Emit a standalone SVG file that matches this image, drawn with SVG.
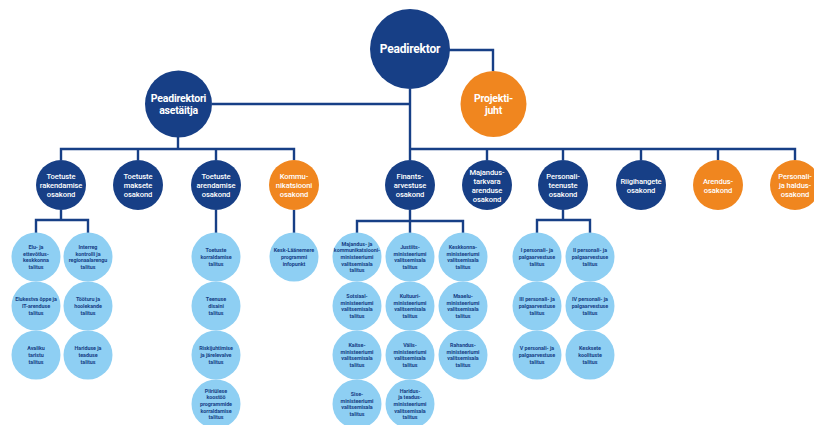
<svg xmlns="http://www.w3.org/2000/svg" width="814" height="425" viewBox="0 0 814 425">
<style>
.bg{fill:#ffffff}
.dk{fill:#173f86}
.or{fill:#f0861f}
.lt{fill:#8ecff3}
.conn path{fill:none;stroke:#173f86;stroke-width:2.4}
text{font-family:Roboto,"Liberation Sans",sans-serif;text-anchor:middle}
.t0{fill:#fff;font-size:12px;font-weight:700;letter-spacing:-0.2px}
.t1{fill:#fff;font-size:10.5px;font-weight:700;letter-spacing:-0.2px}
.t2{fill:#fff;font-size:7.6px;font-weight:500;letter-spacing:-0.1px}
.t3{fill:#173f86;font-size:5.4px;font-weight:700;letter-spacing:-0.05px}
</style>
<rect class="bg" x="0" y="0" width="814" height="425"/>
<g id="connectors" class="conn">
<path d="M410 89 V149"/>
<path d="M449 50 H493 V71"/>
<path d="M212 104 H410"/>
<path d="M178 137 V149"/>
<path d="M61 160 V149 H294 V160 M138 149 V160 M216 149 V160"/>
<path d="M410 149 H795 V160 M410 149 V160 M487 149 V160 M563 149 V160 M641 149 V160 M718 149 V160"/>
<path d="M61 210 V220 M36 233 V220 H88 V233"/>
<path d="M216 210 V233"/>
<path d="M294 210 V233"/>
<path d="M410 210 V233 M357 233 V221 H463 V233"/>
<path d="M563 210 V220 M537 233 V220 H590 V233"/>
</g>

<g id="peadirektor"><circle class="dk" cx="410" cy="49" r="40"/><text class="t0" x="410" y="53">Peadirektor</text></g>
<g id="asetaitja"><circle class="dk" cx="178.5" cy="104" r="33.5"/><text class="t1"><tspan x="178.5" y="101.5">Peadirektori</tspan><tspan x="178.5" y="114">asetäitja</tspan></text></g>
<g id="projektijuht"><circle class="or" cx="493.5" cy="104" r="33"/><text class="t1"><tspan x="493.5" y="101.5">Projekti-</tspan><tspan x="493.5" y="114">juht</tspan></text></g>

<g id="rakendamise"><circle class="dk" cx="61" cy="185" r="25"/><text class="t2"><tspan x="61" y="179">Toetuste</tspan><tspan x="61" y="188">rakendamise</tspan><tspan x="61" y="197">osakond</tspan></text></g>
<g id="maksete"><circle class="dk" cx="138" cy="185" r="25"/><text class="t2"><tspan x="138" y="179">Toetuste</tspan><tspan x="138" y="188">maksete</tspan><tspan x="138" y="197">osakond</tspan></text></g>
<g id="arendamise"><circle class="dk" cx="216" cy="185" r="25"/><text class="t2"><tspan x="216" y="179">Toetuste</tspan><tspan x="216" y="188">arendamise</tspan><tspan x="216" y="197">osakond</tspan></text></g>
<g id="kommunikatsiooni"><circle class="or" cx="294" cy="185" r="25"/><text class="t2"><tspan x="294" y="179">Kommu-</tspan><tspan x="294" y="188">nikatsiooni</tspan><tspan x="294" y="197">osakond</tspan></text></g>
<g id="finants"><circle class="dk" cx="410" cy="185" r="25"/><text class="t2"><tspan x="410" y="179">Finants-</tspan><tspan x="410" y="188">arvestuse</tspan><tspan x="410" y="197">osakond</tspan></text></g>
<g id="majandustarkvara"><circle class="dk" cx="487" cy="185" r="25"/><text class="t2"><tspan x="487" y="174.5">Majandus-</tspan><tspan x="487" y="183.5">tarkvara</tspan><tspan x="487" y="192.5">arenduse</tspan><tspan x="487" y="201.5">osakond</tspan></text></g>
<g id="personaliteenuste"><circle class="dk" cx="563" cy="185" r="25"/><text class="t2"><tspan x="563" y="179">Personali-</tspan><tspan x="563" y="188">teenuste</tspan><tspan x="563" y="197">osakond</tspan></text></g>
<g id="riigihangete"><circle class="dk" cx="641" cy="185" r="25"/><text class="t2"><tspan x="641" y="183.5">Riigihangete</tspan><tspan x="641" y="192.5">osakond</tspan></text></g>
<g id="arendus"><circle class="or" cx="718" cy="185" r="25"/><text class="t2"><tspan x="718" y="183.5">Arendus-</tspan><tspan x="718" y="192.5">osakond</tspan></text></g>
<g id="personalihaldus"><circle class="or" cx="795" cy="185" r="25"/><text class="t2"><tspan x="795" y="179">Personali-</tspan><tspan x="795" y="188">ja haldus-</tspan><tspan x="795" y="197">osakond</tspan></text></g>

<g id="elu"><circle class="lt" cx="36" cy="257" r="24.5"/><text class="t3"><tspan x="36" y="249">Elu- ja</tspan><tspan x="36" y="255.7">ettevõtlus-</tspan><tspan x="36" y="262.4">keskkonna</tspan><tspan x="36" y="269.1">talitus</tspan></text></g>
<g id="interreg"><circle class="lt" cx="88" cy="257" r="24.5"/><text class="t3"><tspan x="88" y="249">Interreg</tspan><tspan x="88" y="255.7">kontrolli ja</tspan><tspan x="88" y="262.4">regionaalarengu</tspan><tspan x="88" y="269.1">talitus</tspan></text></g>
<g id="elukestva"><circle class="lt" cx="36" cy="306" r="24.5"/><text class="t3"><tspan x="36" y="301.3">Elukestva õppe ja</tspan><tspan x="36" y="308">IT-arenduse</tspan><tspan x="36" y="314.7">talitus</tspan></text></g>
<g id="tooturu"><circle class="lt" cx="88" cy="306" r="24.5"/><text class="t3"><tspan x="88" y="301.3">Tööturu ja</tspan><tspan x="88" y="308">hoolekande</tspan><tspan x="88" y="314.7">talitus</tspan></text></g>
<g id="avaliku"><circle class="lt" cx="36" cy="355" r="24.5"/><text class="t3"><tspan x="36" y="350.3">Avaliku</tspan><tspan x="36" y="357">taristu</tspan><tspan x="36" y="363.7">talitus</tspan></text></g>
<g id="hariduse"><circle class="lt" cx="88" cy="355" r="24.5"/><text class="t3"><tspan x="88" y="350.3">Hariduse ja</tspan><tspan x="88" y="357">teaduse</tspan><tspan x="88" y="363.7">talitus</tspan></text></g>

<g id="korraldamise"><circle class="lt" cx="216" cy="257" r="24.5"/><text class="t3"><tspan x="216" y="252.3">Toetuste</tspan><tspan x="216" y="259">korraldamise</tspan><tspan x="216" y="265.7">talitus</tspan></text></g>
<g id="disaini"><circle class="lt" cx="216" cy="306" r="24.5"/><text class="t3"><tspan x="216" y="301.3">Teenuse</tspan><tspan x="216" y="308">disaini</tspan><tspan x="216" y="314.7">talitus</tspan></text></g>
<g id="riskijuhtimise"><circle class="lt" cx="216" cy="355" r="24.5"/><text class="t3"><tspan x="216" y="350.3">Riskijuhtimise</tspan><tspan x="216" y="357">ja järelevalve</tspan><tspan x="216" y="363.7">talitus</tspan></text></g>
<g id="piiriulese"><circle class="lt" cx="216" cy="404" r="24.5"/><text class="t3"><tspan x="216" y="392.6">Piiriülese</tspan><tspan x="216" y="399.3">koostöö</tspan><tspan x="216" y="406">programmide</tspan><tspan x="216" y="412.7">korraldamise</tspan><tspan x="216" y="419.4">talitus</tspan></text></g>

<g id="infopunkt"><circle class="lt" cx="294" cy="257" r="24.5"/><text class="t3"><tspan x="294" y="252.3">Kesk-Läänemere</tspan><tspan x="294" y="259">programmi</tspan><tspan x="294" y="265.7">infopunkt</tspan></text></g>

<g id="mkm"><circle class="lt" cx="357" cy="257" r="24.5"/><text class="t3"><tspan x="357" y="245.6">Majandus- ja</tspan><tspan x="357" y="252.3">kommunikatsiooni-</tspan><tspan x="357" y="259">ministeeriumi</tspan><tspan x="357" y="265.7">valitsemisala</tspan><tspan x="357" y="272.4">talitus</tspan></text></g>
<g id="justiits"><circle class="lt" cx="410" cy="257" r="24.5"/><text class="t3"><tspan x="410" y="249">Justiits-</tspan><tspan x="410" y="255.7">ministeeriumi</tspan><tspan x="410" y="262.4">valitsemisala</tspan><tspan x="410" y="269.1">talitus</tspan></text></g>
<g id="keskkonna"><circle class="lt" cx="463" cy="257" r="24.5"/><text class="t3"><tspan x="463" y="249">Keskkonna-</tspan><tspan x="463" y="255.7">ministeeriumi</tspan><tspan x="463" y="262.4">valitsemisala</tspan><tspan x="463" y="269.1">talitus</tspan></text></g>
<g id="sotsiaal"><circle class="lt" cx="357" cy="306" r="24.5"/><text class="t3"><tspan x="357" y="298">Sotsiaal-</tspan><tspan x="357" y="304.7">ministeeriumi</tspan><tspan x="357" y="311.4">valitsemisala</tspan><tspan x="357" y="318.1">talitus</tspan></text></g>
<g id="kultuuri"><circle class="lt" cx="410" cy="306" r="24.5"/><text class="t3"><tspan x="410" y="298">Kultuuri-</tspan><tspan x="410" y="304.7">ministeeriumi</tspan><tspan x="410" y="311.4">valitsemisala</tspan><tspan x="410" y="318.1">talitus</tspan></text></g>
<g id="maaelu"><circle class="lt" cx="463" cy="306" r="24.5"/><text class="t3"><tspan x="463" y="298">Maaelu-</tspan><tspan x="463" y="304.7">ministeeriumi</tspan><tspan x="463" y="311.4">valitsemisala</tspan><tspan x="463" y="318.1">talitus</tspan></text></g>
<g id="kaitse"><circle class="lt" cx="357" cy="355" r="24.5"/><text class="t3"><tspan x="357" y="347">Kaitse-</tspan><tspan x="357" y="353.7">ministeeriumi</tspan><tspan x="357" y="360.4">valitsemisala</tspan><tspan x="357" y="367.1">talitus</tspan></text></g>
<g id="valis"><circle class="lt" cx="410" cy="355" r="24.5"/><text class="t3"><tspan x="410" y="347">Välis-</tspan><tspan x="410" y="353.7">ministeeriumi</tspan><tspan x="410" y="360.4">valitsemisala</tspan><tspan x="410" y="367.1">talitus</tspan></text></g>
<g id="rahandus"><circle class="lt" cx="463" cy="355" r="24.5"/><text class="t3"><tspan x="463" y="347">Rahandus-</tspan><tspan x="463" y="353.7">ministeeriumi</tspan><tspan x="463" y="360.4">valitsemisala</tspan><tspan x="463" y="367.1">talitus</tspan></text></g>
<g id="sise"><circle class="lt" cx="357" cy="404" r="24.5"/><text class="t3"><tspan x="357" y="396">Sise-</tspan><tspan x="357" y="402.7">ministeeriumi</tspan><tspan x="357" y="409.4">valitsemisala</tspan><tspan x="357" y="416.1">talitus</tspan></text></g>
<g id="haridus"><circle class="lt" cx="410" cy="404" r="24.5"/><text class="t3"><tspan x="410" y="392.6">Haridus-</tspan><tspan x="410" y="399.3">ja teadus-</tspan><tspan x="410" y="406">ministeeriumi</tspan><tspan x="410" y="412.7">valitsemisala</tspan><tspan x="410" y="419.4">talitus</tspan></text></g>

<g id="p1"><circle class="lt" cx="537" cy="257" r="24.5"/><text class="t3"><tspan x="537" y="252.3">I personali- ja</tspan><tspan x="537" y="259">palgaarvestuse</tspan><tspan x="537" y="265.7">talitus</tspan></text></g>
<g id="p2"><circle class="lt" cx="590" cy="257" r="24.5"/><text class="t3"><tspan x="590" y="252.3">II personali- ja</tspan><tspan x="590" y="259">palgaarvestuse</tspan><tspan x="590" y="265.7">talitus</tspan></text></g>
<g id="p3"><circle class="lt" cx="537" cy="306" r="24.5"/><text class="t3"><tspan x="537" y="301.3">III personali- ja</tspan><tspan x="537" y="308">palgaarvestuse</tspan><tspan x="537" y="314.7">talitus</tspan></text></g>
<g id="p4"><circle class="lt" cx="590" cy="306" r="24.5"/><text class="t3"><tspan x="590" y="301.3">IV personali- ja</tspan><tspan x="590" y="308">palgaarvestuse</tspan><tspan x="590" y="314.7">talitus</tspan></text></g>
<g id="p5"><circle class="lt" cx="537" cy="355" r="24.5"/><text class="t3"><tspan x="537" y="350.3">V personali- ja</tspan><tspan x="537" y="357">palgaarvestuse</tspan><tspan x="537" y="363.7">talitus</tspan></text></g>
<g id="keskkoolitus"><circle class="lt" cx="590" cy="355" r="24.5"/><text class="t3"><tspan x="590" y="350.3">Kesksete</tspan><tspan x="590" y="357">koolituste</tspan><tspan x="590" y="363.7">talitus</tspan></text></g>
</svg>
